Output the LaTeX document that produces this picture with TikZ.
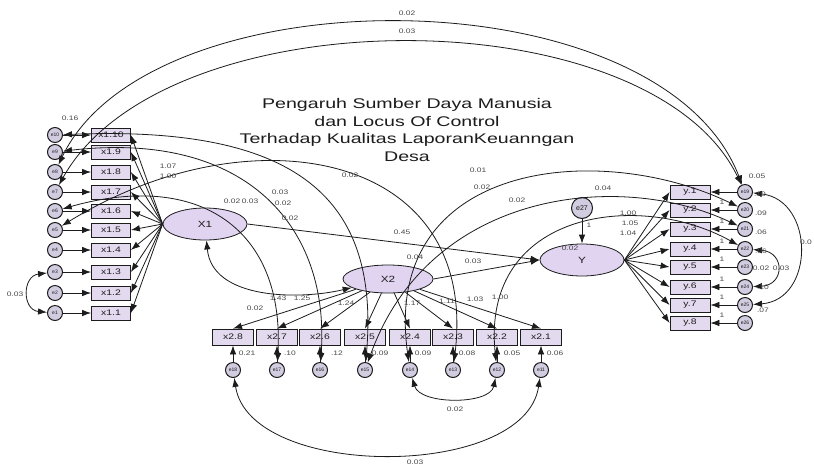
\documentclass[tikz,border=0pt]{standalone}
\usepackage{graphicx}
\usepackage{fontspec}
\setmainfont{Liberation Sans}
\usetikzlibrary{arrows.meta,shapes.geometric}
\definecolor{boxfill}{HTML}{E4DAF0}
\definecolor{ellfill}{HTML}{E0D4F0}
\definecolor{errfill}{HTML}{D2CCE0}
\definecolor{ink}{HTML}{1C1C1C}
\newcommand\sx[1]{\scalebox{1.3}[1]{#1}}
\begin{document}
\begin{tikzpicture}[x=1pt,y=-1pt,
  ind/.style={draw=ink,fill=boxfill,minimum width=39pt,minimum height=14pt,inner sep=0pt,line width=0.8pt,font=\fontsize{8}{9}\selectfont,text=ink},
  lat/.style={ellipse,draw=ink,fill=ellfill,minimum width=84pt,minimum height=32pt,inner sep=0pt,line width=0.8pt,font=\fontsize{9}{10}\selectfont,text=ink},
  err/.style={circle,draw=ink,fill=errfill,minimum size=15pt,inner sep=0pt,line width=1pt,font=\fontsize{5}{6}\selectfont,text=ink},
  arr/.style={-{Latex[length=9pt,width=6.5pt]},draw=ink,line width=0.8pt},
  cov/.style={{Latex[length=9pt,width=6.5pt]}-{Latex[length=9pt,width=6.5pt]},draw=ink,line width=0.8pt},
  lbl/.style={font=\fontsize{6.5}{7}\selectfont,text=ink!80,inner sep=0pt,xscale=1.3},
  ttl/.style={font=\fontsize{14}{17.5}\selectfont,text=ink,align=center,xscale=1.4}]
\useasboundingbox[fill=white] (0,0) rectangle (814,467);

% title
\node[ttl] (title) at (407,130) {Pengaruh Sumber Daya Manusia\\dan Locus Of Control\\Terhadap Kualitas LaporanKeuanngan\\Desa};

% left indicators
\foreach \n/\y in {10/135,9/152,8/172,7/192,6/211,5/230,4/250,3/272,2/293,1/313}{
  \node[ind] (a\n) at (111,\y) {\sx{x1.\n}};
  \node[err] (ea\n) at (55,\y) {e\n};
}
% right indicators
\foreach \n/\y/\e in {1/192/19,2/210/20,3/229/21,4/249/22,5/267/23,6/287/24,7/305/25,8/323/26}{
  \node[ind,minimum width=40pt] (c\n) at (690,\y) {\sx{y.\n}};
  \node[err] (eb\n) at (745,\y) {e\e};
}
% bottom indicators
\foreach \n/\x/\e in {8/233/18,7/277/17,6/320/16,5/365/15,4/410/14,3/453/13,2/497/12,1/541/11}{
  \node[ind,minimum width=41pt,minimum height=16pt] (b\n) at (\x,337) {\sx{x2.\n}};
  \node[err] (ec\n) at (\x,370) {e\e};
}
% latents
\node[lat] (X1) at (205,224) {\sx{X1}};
\node[lat,minimum width=90pt,minimum height=28pt] (X2) at (388,279) {\sx{X2}};
\node[lat] (Y) at (582,260) {\sx{Y}};
\node[err,minimum size=21pt,font=\fontsize{7}{8}\selectfont] (e27) at (582,208) {e27};

% loadings
\foreach \n in {1,...,10} \draw[arr] (X1.west) -- (a\n.east);
\foreach \n in {1,...,8} \draw[arr] (X2) -- (b\n.north);
\foreach \n in {1,...,8} \draw[arr] (Y.east) -- (c\n.west);
% error paths
\foreach \n in {1,...,10} \draw[arr] (ea\n) -- (a\n);
\foreach \n in {1,...,8} {\draw[arr] (eb\n) -- (c\n); \draw[arr] (ec\n) -- (b\n);}
\draw[arr] (e27) -- (Y);
% structural
\draw[arr] (X1.east) -- (Y.west);
\draw[arr] (X2.east) -- (Y.west);
\draw[cov] (X1) .. controls (212,300) and (300,300) .. (X2);

% error covariances
\draw[cov] (ea8) .. controls (150,-28) and (660,-28) .. (eb1);
\draw[cov] (ea7) .. controls (165,-5) and (650,-5) .. (eb1);
\draw[cov] (ea9) .. controls (250,130) and (330,230) .. (ec6);
\draw[cov] (ea6) .. controls (200,170) and (285,230) .. (ec7);
\draw[cov] (ea10) .. controls (300,125) and (380,200) .. (ec5);
\draw[cov] (ea5) .. controls (250,110) and (480,150) .. (ec3);
\draw[cov] (ec4) .. controls (380,160) and (600,140) .. (eb2);
\draw[cov] (ec5) .. controls (430,190) and (620,170) .. (eb3);
\draw[cov] (ec2) .. controls (480,210) and (640,190) .. (eb4);
\draw[cov] (ec4) .. controls (420,405) and (490,405) .. (ec2);
\draw[cov] (ec8) .. controls (250,480) and (525,480) .. (ec1);
\draw[cov] (eb1) .. controls (815,200) and (815,300) .. (eb7);
\draw[cov] (eb4) .. controls (785,252) and (785,285) .. (eb6);
\draw[cov] (ea3) .. controls (22,276) and (22,310) .. (ea1);

% labels
\node[lbl] (l1) at (407,13) {0.02};
\node[lbl] (l2) at (407,31) {0.03};
\node[lbl] (l3) at (70,118) {0.16};
\node[lbl] (l4) at (15,294) {0.03};
\node[lbl] (l5) at (168,166) {1.07};
\node[lbl] (l6) at (168,176) {1.00};
\node[lbl] (l7) at (232,201) {0.02};
\node[lbl] (l8) at (250,201) {0.03};
\node[lbl] (l9) at (280,192) {0.03};
\node[lbl] (l10) at (283,203) {0.02};
\node[lbl] (l11) at (290,218) {0.02};
\node[lbl] (l12) at (350,175) {0.02};
\node[lbl] (l13) at (478,170) {0.01};
\node[lbl] (l14) at (482,187) {0.02};
\node[lbl] (l15) at (517,200) {0.02};
\node[lbl] (l16) at (603,188) {0.04};
\node[lbl] (l17) at (402,232) {0.45};
\node[lbl] (l18) at (415,257) {0.04};
\node[lbl] (l19) at (473,261) {0.03};
\node[lbl] (l20) at (570,248) {0.02};
\node[lbl] (l21) at (589,225) {1};
\node[lbl] (l22) at (628,213) {1.00};
\node[lbl] (l23) at (630,223) {1.05};
\node[lbl] (l24) at (628,233) {1.04};
\node[lbl] (l25) at (255,308) {0.02};
\node[lbl] (l26) at (278,298) {1.43};
\node[lbl] (l27) at (302,298) {1.25};
\node[lbl] (l28) at (346,303) {1.24};
\node[lbl] (l29) at (412,303) {1.17};
\node[lbl] (l30) at (447,301) {1.11};
\node[lbl] (l31) at (475,299) {1.03};
\node[lbl] (l32) at (500,297) {1.00};
% bottom variances
\foreach \x/\t [count=\i] in {247/0.21,290/.10,337/.12,380/0.09,423/0.09,467/0.08,512/0.05,555/0.06}
  \node[lbl] (bv\i) at (\x,353) {\t};
\node[lbl] (l33) at (455,409) {0.02};
\node[lbl] (l34) at (415,462) {0.03};
% right variances
\foreach \x/\y/\t [count=\i] in {757/176/0.05,760/194/.10,761/213/.09,761/232/.06,761/251/.06,761/268/0.02,763/287/.10,763/310/.07}
  \node[lbl] (rv\i) at (\x,\y) {\t};
\node[lbl] (l35) at (781,268) {0.03};
\node[lbl] (l36) at (806,242) {0.0};
\foreach \y [count=\i] in {202,221,241,259,279,297,315}
  \node[lbl] (one\i) at (722,\y) {1};
\end{tikzpicture}
\end{document}
